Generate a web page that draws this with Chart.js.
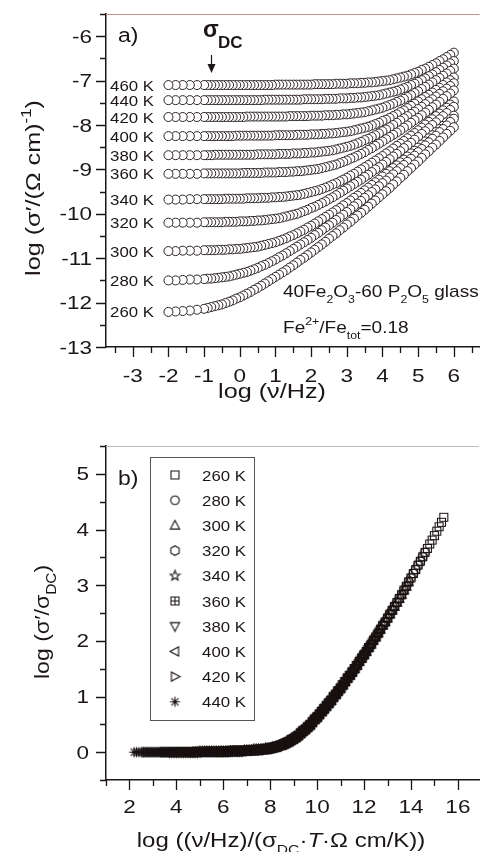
<!DOCTYPE html>
<html>
<head>
<meta charset="utf-8">
<script src="https://cdn.jsdelivr.net/npm/chart.js@4.4.0/dist/chart.umd.min.js"></script>
<style>
  html, body { margin: 0; padding: 0; background: #fff; }
  canvas { display: block; }
</style>
</head>
<body>
<canvas id="chartA" width="485" height="426"></canvas>
<canvas id="chartB" width="485" height="426"></canvas>
<script>
// ---- panel a : log sigma' vs log nu, one list per temperature ----
const tempsA = [260, 280, 300, 320, 340, 360, 380, 400, 420, 440, 460];
const freqA = [-2, -1.8, -1.6, -1.4, -1.2, -1,
  -0.9, -0.8, -0.7, -0.6, -0.5, -0.4, -0.3, -0.2, -0.1,
  0, 0.1, 0.2, 0.3, 0.4, 0.5, 0.6, 0.7, 0.8, 0.9,
  1, 1.1, 1.2, 1.3, 1.4, 1.5, 1.6, 1.7, 1.8, 1.9,
  2, 2.1, 2.2, 2.3, 2.4, 2.5, 2.6, 2.7, 2.8, 2.9,
  3, 3.1, 3.2, 3.3, 3.4, 3.5, 3.6, 3.7, 3.8, 3.9,
  4, 4.1, 4.2, 4.3, 4.4, 4.5, 4.6, 4.7, 4.8, 4.9,
  5, 5.1, 5.2, 5.3, 5.4, 5.5, 5.6, 5.7, 5.8, 5.9,
  6];
const s260 = [-12.21, -12.20, -12.19, -12.18, -12.16, -12.14,
  -12.12, -12.10, -12.08, -12.06, -12.04, -12.01, -11.98, -11.95, -11.91,
  -11.88, -11.84, -11.80, -11.76, -11.71, -11.67, -11.62, -11.57, -11.52, -11.47,
  -11.42, -11.37, -11.32, -11.27, -11.21, -11.16, -11.10, -11.04, -10.99, -10.93,
  -10.87, -10.81, -10.75, -10.69, -10.63, -10.56, -10.50, -10.44, -10.37, -10.31,
  -10.24, -10.18, -10.11, -10.04, -9.98, -9.91, -9.84, -9.77, -9.70, -9.63,
  -9.56, -9.49, -9.42, -9.34, -9.27, -9.19, -9.12, -9.04, -8.97, -8.89,
  -8.82, -8.74, -8.66, -8.59, -8.51, -8.44, -8.36, -8.28, -8.20, -8.13,
  -8.05];
const s280 = [-11.50, -11.50, -11.49, -11.48, -11.48, -11.47,
  -11.46, -11.46, -11.45, -11.44, -11.43, -11.42, -11.41, -11.39, -11.37,
  -11.35, -11.33, -11.31, -11.28, -11.25, -11.22, -11.18, -11.15, -11.11, -11.07,
  -11.03, -10.98, -10.94, -10.89, -10.84, -10.79, -10.74, -10.69, -10.64, -10.59,
  -10.54, -10.48, -10.43, -10.37, -10.31, -10.26, -10.20, -10.14, -10.08, -10.02,
  -9.96, -9.90, -9.83, -9.77, -9.71, -9.64, -9.58, -9.51, -9.45, -9.38,
  -9.31, -9.25, -9.18, -9.11, -9.04, -8.97, -8.90, -8.83, -8.76, -8.69,
  -8.61, -8.54, -8.46, -8.39, -8.31, -8.24, -8.16, -8.09, -8.01, -7.93,
  -7.86];
const s300 = [-10.84, -10.84, -10.83, -10.83, -10.83, -10.82,
  -10.82, -10.82, -10.82, -10.81, -10.81, -10.81, -10.80, -10.80, -10.79,
  -10.79, -10.78, -10.77, -10.76, -10.75, -10.74, -10.72, -10.70, -10.68, -10.66,
  -10.64, -10.61, -10.58, -10.55, -10.51, -10.48, -10.44, -10.40, -10.36, -10.31,
  -10.27, -10.22, -10.17, -10.12, -10.07, -10.02, -9.97, -9.92, -9.87, -9.81,
  -9.76, -9.70, -9.64, -9.59, -9.53, -9.47, -9.41, -9.35, -9.29, -9.23,
  -9.16, -9.10, -9.04, -8.97, -8.91, -8.84, -8.78, -8.71, -8.64, -8.58,
  -8.51, -8.44, -8.37, -8.30, -8.23, -8.16, -8.09, -8.02, -7.94, -7.87,
  -7.79];
const s320 = [-10.20, -10.20, -10.20, -10.20, -10.20, -10.19,
  -10.19, -10.19, -10.19, -10.19, -10.19, -10.18, -10.18, -10.18, -10.18,
  -10.17, -10.17, -10.17, -10.16, -10.16, -10.15, -10.15, -10.14, -10.13, -10.12,
  -10.11, -10.10, -10.08, -10.06, -10.04, -10.02, -10.00, -9.97, -9.94, -9.91,
  -9.87, -9.84, -9.80, -9.76, -9.72, -9.67, -9.63, -9.58, -9.53, -9.48,
  -9.43, -9.38, -9.33, -9.28, -9.23, -9.17, -9.12, -9.06, -9.00, -8.95,
  -8.89, -8.83, -8.77, -8.71, -8.65, -8.59, -8.52, -8.46, -8.40, -8.33,
  -8.27, -8.20, -8.14, -8.07, -8.00, -7.94, -7.87, -7.80, -7.73, -7.66,
  -7.59];
const s340 = [-9.68, -9.68, -9.68, -9.67, -9.67, -9.67,
  -9.67, -9.67, -9.67, -9.67, -9.67, -9.66, -9.66, -9.66, -9.66,
  -9.66, -9.66, -9.65, -9.65, -9.65, -9.65, -9.64, -9.64, -9.64, -9.63,
  -9.63, -9.62, -9.62, -9.61, -9.60, -9.59, -9.58, -9.57, -9.55, -9.53,
  -9.51, -9.49, -9.47, -9.44, -9.41, -9.38, -9.34, -9.31, -9.27, -9.23,
  -9.19, -9.14, -9.10, -9.05, -9.00, -8.95, -8.90, -8.85, -8.80, -8.75,
  -8.70, -8.64, -8.59, -8.53, -8.47, -8.42, -8.36, -8.30, -8.24, -8.18,
  -8.12, -8.06, -7.99, -7.93, -7.87, -7.80, -7.74, -7.67, -7.61, -7.54,
  -7.47];
const s360 = [-9.10, -9.10, -9.10, -9.10, -9.10, -9.09,
  -9.09, -9.09, -9.09, -9.09, -9.09, -9.09, -9.09, -9.09, -9.09,
  -9.09, -9.08, -9.08, -9.08, -9.08, -9.08, -9.08, -9.07, -9.07, -9.07,
  -9.07, -9.06, -9.06, -9.06, -9.05, -9.05, -9.04, -9.04, -9.03, -9.02,
  -9.01, -9.00, -8.99, -8.97, -8.95, -8.93, -8.91, -8.89, -8.86, -8.83,
  -8.80, -8.76, -8.73, -8.69, -8.65, -8.61, -8.56, -8.52, -8.47, -8.42,
  -8.37, -8.32, -8.27, -8.22, -8.17, -8.12, -8.06, -8.01, -7.95, -7.89,
  -7.84, -7.78, -7.72, -7.66, -7.60, -7.54, -7.48, -7.41, -7.35, -7.29,
  -7.22];
const s380 = [-8.68, -8.68, -8.68, -8.68, -8.68, -8.68,
  -8.68, -8.68, -8.67, -8.67, -8.67, -8.67, -8.67, -8.67, -8.67,
  -8.67, -8.67, -8.67, -8.67, -8.67, -8.66, -8.66, -8.66, -8.66, -8.66,
  -8.66, -8.65, -8.65, -8.65, -8.65, -8.64, -8.64, -8.64, -8.63, -8.63,
  -8.62, -8.62, -8.61, -8.60, -8.59, -8.58, -8.57, -8.55, -8.53, -8.51,
  -8.49, -8.47, -8.44, -8.41, -8.38, -8.34, -8.31, -8.27, -8.23, -8.19,
  -8.14, -8.10, -8.05, -8.00, -7.95, -7.90, -7.85, -7.80, -7.75, -7.70,
  -7.64, -7.59, -7.53, -7.47, -7.42, -7.36, -7.30, -7.24, -7.18, -7.12,
  -7.06];
const s400 = [-8.25, -8.25, -8.25, -8.25, -8.25, -8.25,
  -8.25, -8.25, -8.25, -8.25, -8.25, -8.25, -8.25, -8.25, -8.24,
  -8.24, -8.24, -8.24, -8.24, -8.24, -8.24, -8.24, -8.24, -8.24, -8.24,
  -8.23, -8.23, -8.23, -8.23, -8.23, -8.23, -8.22, -8.22, -8.22, -8.22,
  -8.21, -8.21, -8.21, -8.20, -8.20, -8.19, -8.19, -8.18, -8.17, -8.16,
  -8.15, -8.14, -8.12, -8.10, -8.08, -8.06, -8.04, -8.01, -7.98, -7.95,
  -7.91, -7.88, -7.84, -7.80, -7.76, -7.71, -7.67, -7.62, -7.57, -7.52,
  -7.47, -7.42, -7.37, -7.32, -7.27, -7.21, -7.16, -7.10, -7.04, -6.99,
  -6.93];
const s420 = [-7.82, -7.82, -7.82, -7.82, -7.82, -7.82,
  -7.82, -7.82, -7.82, -7.82, -7.82, -7.82, -7.82, -7.82, -7.82,
  -7.82, -7.82, -7.81, -7.81, -7.81, -7.81, -7.81, -7.81, -7.81, -7.81,
  -7.81, -7.81, -7.81, -7.81, -7.80, -7.80, -7.80, -7.80, -7.80, -7.80,
  -7.79, -7.79, -7.79, -7.79, -7.78, -7.78, -7.78, -7.77, -7.77, -7.76,
  -7.76, -7.75, -7.74, -7.73, -7.72, -7.71, -7.69, -7.67, -7.65, -7.63,
  -7.61, -7.58, -7.55, -7.52, -7.48, -7.45, -7.41, -7.37, -7.33, -7.28,
  -7.24, -7.19, -7.14, -7.09, -7.04, -6.99, -6.94, -6.89, -6.84, -6.78,
  -6.73];
const s440 = [-7.44, -7.44, -7.44, -7.44, -7.44, -7.44,
  -7.44, -7.44, -7.44, -7.44, -7.44, -7.44, -7.44, -7.44, -7.44,
  -7.44, -7.44, -7.44, -7.44, -7.44, -7.44, -7.44, -7.43, -7.43, -7.43,
  -7.43, -7.43, -7.43, -7.43, -7.43, -7.43, -7.43, -7.43, -7.42, -7.42,
  -7.42, -7.42, -7.42, -7.42, -7.41, -7.41, -7.41, -7.41, -7.40, -7.40,
  -7.40, -7.39, -7.39, -7.38, -7.38, -7.37, -7.36, -7.35, -7.34, -7.33,
  -7.31, -7.29, -7.27, -7.25, -7.23, -7.20, -7.17, -7.14, -7.10, -7.07,
  -7.03, -6.99, -6.95, -6.90, -6.86, -6.81, -6.76, -6.71, -6.66, -6.61,
  -6.56];
const s460 = [-7.10, -7.10, -7.10, -7.10, -7.10, -7.10,
  -7.10, -7.10, -7.10, -7.10, -7.10, -7.10, -7.10, -7.10, -7.10,
  -7.10, -7.10, -7.10, -7.10, -7.10, -7.10, -7.10, -7.10, -7.10, -7.10,
  -7.09, -7.09, -7.09, -7.09, -7.09, -7.09, -7.09, -7.09, -7.09, -7.09,
  -7.09, -7.08, -7.08, -7.08, -7.08, -7.08, -7.08, -7.07, -7.07, -7.07,
  -7.07, -7.06, -7.06, -7.06, -7.05, -7.05, -7.04, -7.04, -7.03, -7.02,
  -7.01, -7.00, -6.99, -6.97, -6.95, -6.93, -6.91, -6.89, -6.86, -6.83,
  -6.80, -6.76, -6.73, -6.69, -6.65, -6.61, -6.56, -6.52, -6.47, -6.42,
  -6.37];
const sigmaA = [s260, s280, s300, s320, s340, s360, s380, s400, s420, s440, s460];

const xMajorA = [-3, -2, -1, 0, 1, 2, 3, 4, 5, 6];
const xMinorA = [-3.5, -2.5, -1.5, -0.5, 0.5, 1.5, 2.5, 3.5, 4.5, 5.5, 6.5];
const yMajorA = [-13, -12, -11, -10, -9, -8, -7, -6];
const yMinorA = [-12.5, -11.5, -10.5, -9.5, -8.5, -7.5, -6.5, -5.5];

// ---- panel b : master curve, each temperature covers a part of it ----
const tempsB = [260, 280, 300, 320, 340, 360, 380, 400, 420, 440];
const rangeB = [[7.4, 15.4], [6.6, 14.6], [5.9, 13.9], [5.3, 13.3], [4.7, 12.7],
  [4.2, 12.2], [3.7, 11.7], [3.2, 11.2], [2.7, 10.7], [2.2, 10.2]];
const masterX = [2.2, 2.3, 2.4, 2.5, 2.6, 2.7, 2.8, 2.9,
  3, 3.1, 3.2, 3.3, 3.4, 3.5, 3.6, 3.7, 3.8, 3.9,
  4, 4.1, 4.2, 4.3, 4.4, 4.5, 4.6, 4.7, 4.8, 4.9,
  5, 5.1, 5.2, 5.3, 5.4, 5.5, 5.6, 5.7, 5.8, 5.9,
  6, 6.1, 6.2, 6.3, 6.4, 6.5, 6.6, 6.7, 6.8, 6.9,
  7, 7.1, 7.2, 7.3, 7.4, 7.5, 7.6, 7.7, 7.8, 7.9,
  8, 8.1, 8.2, 8.3, 8.4, 8.5, 8.6, 8.7, 8.8, 8.9,
  9, 9.1, 9.2, 9.3, 9.4, 9.5, 9.6, 9.7, 9.8, 9.9,
  10, 10.1, 10.2, 10.3, 10.4, 10.5, 10.6, 10.7, 10.8, 10.9,
  11, 11.1, 11.2, 11.3, 11.4, 11.5, 11.6, 11.7, 11.8, 11.9,
  12, 12.1, 12.2, 12.3, 12.4, 12.5, 12.6, 12.7, 12.8, 12.9,
  13, 13.1, 13.2, 13.3, 13.4, 13.5, 13.6, 13.7, 13.8, 13.9,
  14, 14.1, 14.2, 14.3, 14.4, 14.5, 14.6, 14.7, 14.8, 14.9,
  15, 15.1, 15.2, 15.3, 15.4];
const masterY = [0, 0, 0, 0, 0, 0, 0, 0,
  0, 0, 0, 0, 0, 0, 0, 0, 0, 0,
  0, 0, 0, 0, 0, 0, 0, 0, 0, 0,
  0.01, 0.01, 0.01, 0.01, 0.01, 0.01, 0.01, 0.01, 0.01, 0.01,
  0.01, 0.01, 0.01, 0.02, 0.02, 0.02, 0.02, 0.02, 0.02, 0.03,
  0.03, 0.03, 0.03, 0.04, 0.04, 0.04, 0.05, 0.05, 0.06, 0.06,
  0.07, 0.08, 0.09, 0.10, 0.12, 0.13, 0.15, 0.17, 0.19, 0.22,
  0.24, 0.27, 0.30, 0.34, 0.38, 0.41, 0.45, 0.49, 0.54, 0.59,
  0.63, 0.68, 0.73, 0.78, 0.83, 0.88, 0.93, 0.99, 1.04, 1.10,
  1.15, 1.21, 1.27, 1.33, 1.38, 1.44, 1.50, 1.56, 1.63, 1.69,
  1.75, 1.81, 1.88, 1.94, 2.01, 2.07, 2.14, 2.21, 2.28, 2.34,
  2.41, 2.48, 2.55, 2.62, 2.69, 2.76, 2.83, 2.91, 2.98, 3.06,
  3.13, 3.21, 3.28, 3.36, 3.43, 3.51, 3.59, 3.66, 3.74, 3.81,
  3.89, 3.97, 4.05, 4.13, 4.22];
const markerKinds = ['square', 'circle', 'up', 'hex', 'star', 'boxplus', 'down', 'left', 'right', 'asterisk'];

const xMajorB = [2, 4, 6, 8, 10, 12, 14, 16];
const xMinorB = [1, 3, 5, 7, 9, 11, 13, 15];
const yMajorB = [0, 1, 2, 3, 4, 5];
const yMinorB = [-0.5, 0.5, 1.5, 2.5, 3.5, 4.5, 5.5];

// ---- drawing helpers ----
const FONT = "'Liberation Sans', Arial, Helvetica, sans-serif";
const INK = '#1c1616';

// parts: [text, flags]  d = subscript, u = superscript, i = italic, b = bold
function rich(ctx, parts, x, y, size, align, sx) {
  sx = sx || 1;
  const small = Math.round(size * 0.66);
  const spec = parts.map(([t, f = '']) => {
    const sm = f.includes('d') || f.includes('u');
    const sty = (f.includes('i') ? 'italic ' : '') + (f.includes('b') ? 'bold ' : '');
    const font = sty + (sm ? small : size) + 'px ' + FONT;
    ctx.font = font;
    return { t, font, w: ctx.measureText(t).width,
      dy: f.includes('d') ? size * 0.33 : f.includes('u') ? -size * 0.45 : 0 };
  });
  const total = spec.reduce((s, p) => s + p.w, 0);
  let cx = align === 'center' ? -total / 2 : align === 'right' ? -total : 0;
  ctx.save();
  ctx.translate(x, y);
  ctx.scale(sx, 1);
  ctx.fillStyle = INK;
  ctx.textAlign = 'left';
  ctx.textBaseline = 'alphabetic';
  spec.forEach(p => { ctx.font = p.font; ctx.fillText(p.t, cx, p.dy); cx += p.w; });
  ctx.restore();
}

// open (unfilled) symbols, so that the overlapping scaled curves pile up into a dark band
function makeMarker(kind) {
  const c = document.createElement('canvas');
  c.width = 13; c.height = 13;
  const g = c.getContext('2d');
  g.translate(6.5, 6.5);
  g.lineWidth = 1.1;
  g.strokeStyle = '#1a1212';
  const poly = pts => { g.moveTo(pts[0][0], pts[0][1]); pts.slice(1).forEach(p => g.lineTo(p[0], p[1])); g.closePath(); };
  g.beginPath();
  if (kind === 'square' || kind === 'boxplus') g.rect(-4, -4, 8, 8);
  else if (kind === 'circle') g.arc(0, 0, 4.3, 0, Math.PI * 2);
  else if (kind === 'up') poly([[0, -5], [4.6, 3.6], [-4.6, 3.6]]);
  else if (kind === 'down') poly([[0, 5], [4.6, -3.6], [-4.6, -3.6]]);
  else if (kind === 'left') poly([[-5, 0], [3.6, -4.6], [3.6, 4.6]]);
  else if (kind === 'right') poly([[5, 0], [-3.6, -4.6], [-3.6, 4.6]]);
  else if (kind === 'hex') {
    const pts = [];
    for (let k = 0; k < 6; k++) { const a = Math.PI / 6 + k * Math.PI / 3; pts.push([4.8 * Math.cos(a), 4.8 * Math.sin(a)]); }
    poly(pts);
  } else if (kind === 'star') {
    const pts = [];
    for (let k = 0; k < 10; k++) { const a = -Math.PI / 2 + k * Math.PI / 5; const r = k % 2 ? 2.2 : 5.2; pts.push([r * Math.cos(a), r * Math.sin(a)]); }
    poly(pts);
  }
  if (kind === 'boxplus') { g.moveTo(0, -4); g.lineTo(0, 4); g.moveTo(-4, 0); g.lineTo(4, 0); }
  if (kind === 'asterisk') {
    for (let k = 0; k < 4; k++) { const a = k * Math.PI / 4; g.moveTo(-5 * Math.cos(a), -5 * Math.sin(a)); g.lineTo(5 * Math.cos(a), 5 * Math.sin(a)); }
  }
  g.stroke();
  return c;
}
const markers = markerKinds.map(makeMarker);

// tick marks, tick labels and top frame line, all placed with the chart's scales
const axisDecor = {
  id: 'axisDecor',
  afterDraw(chart, args, o) {
    const ctx = chart.ctx, xs = chart.scales.x, ys = chart.scales.y, area = chart.chartArea;
    ctx.save();
    ctx.strokeStyle = INK;
    ctx.lineWidth = 1.3;
    ctx.beginPath();
    const xt = (v, len) => { const p = Math.round(xs.getPixelForValue(v)) + 0.5; ctx.moveTo(p, area.bottom); ctx.lineTo(p, area.bottom + len); };
    const yt = (v, len) => { const p = Math.round(ys.getPixelForValue(v)) + 0.5; ctx.moveTo(area.left, p); ctx.lineTo(area.left - len, p); };
    o.xMajor.forEach(v => xt(v, 10));
    o.xMinor.forEach(v => xt(v, 6));
    o.yMajor.forEach(v => yt(v, 10));
    o.yMinor.forEach(v => yt(v, 6));
    ctx.stroke();
    ctx.strokeStyle = o.frame;
    ctx.lineWidth = 1;
    ctx.beginPath();
    ctx.moveTo(area.left, area.top + 0.5);
    ctx.lineTo(area.right, area.top + 0.5);
    ctx.stroke();
    ctx.restore();
    o.xMajor.forEach(v => rich(ctx, [[String(v)]], xs.getPixelForValue(v), o.xBase, 18, 'center', 1.25));
    o.yMajor.forEach(v => rich(ctx, [[String(v)]], o.yRight, ys.getPixelForValue(v) + 6.5, 18, 'right', 1.25));
  }
};

function scales(xmin, xmax, ymin, ymax, xh, yw) {
  const common = { type: 'linear', border: { display: true, color: INK, width: 1.5 }, grid: { display: false }, ticks: { display: false } };
  return {
    x: Object.assign({}, common, { min: xmin, max: xmax, afterFit: s => { s.height = xh; } }),
    y: Object.assign({}, common, { min: ymin, max: ymax, afterFit: s => { s.width = yw; } })
  };
}

// ---- chart a ----
const annotA = {
  id: 'annotA',
  afterDraw(chart) {
    const ctx = chart.ctx, ys = chart.scales.y;
    tempsA.forEach((t, i) => rich(ctx, [[t + ' K']], 154, ys.getPixelForValue(sigmaA[i][0]) + 5.5, 15, 'right', 1.12));
    rich(ctx, [['a)']], 118, 42, 20, 'left', 1.15);
    rich(ctx, [['σ', 'b']], 203, 37, 23, 'left', 1);
    rich(ctx, [['DC', 'b']], 218, 48, 17, 'left', 1);
    ctx.save();
    ctx.strokeStyle = INK; ctx.fillStyle = INK; ctx.lineWidth = 1.2;
    ctx.beginPath(); ctx.moveTo(211.5, 55); ctx.lineTo(211.5, 66); ctx.stroke();
    ctx.beginPath(); ctx.moveTo(207.5, 64); ctx.lineTo(215.5, 64); ctx.lineTo(211.5, 73); ctx.closePath(); ctx.fill();
    ctx.restore();
    rich(ctx, [['40Fe'], ['2', 'd'], ['O'], ['3', 'd'], ['-60 P'], ['2', 'd'], ['O'], ['5', 'd'], [' glass']], 283, 297, 17, 'left', 1.12);
    rich(ctx, [['Fe'], ['2+', 'u'], ['/Fe'], ['tot', 'd'], ['=0.18']], 283, 333, 17, 'left', 1.12);
    rich(ctx, [['log (ν/Hz)']], 272, 398, 21, 'center', 1.2);
    ctx.save();
    ctx.translate(40, 188);
    ctx.rotate(-Math.PI / 2);
    rich(ctx, [['log (σ′/(Ω cm)'], ['-1', 'u'], [')']], 0, 0, 21, 'center', 1.2);
    ctx.restore();
  }
};

new Chart(document.getElementById('chartA'), {
  type: 'scatter',
  data: {
    datasets: tempsA.map((t, i) => ({
      label: t + ' K',
      data: freqA.map((f, j) => ({ x: f, y: sigmaA[i][j] })).reverse(),
      pointStyle: 'circle',
      pointRadius: 4.5,
      pointBorderWidth: 1,
      pointBorderColor: '#2e2424',
      pointBackgroundColor: '#fff'
    }))
  },
  options: {
    responsive: false, animation: false, devicePixelRatio: 1, events: [],
    layout: { padding: { top: 14, left: 0, right: 0, bottom: 0 } },
    plugins: {
      legend: { display: false }, tooltip: { enabled: false },
      axisDecor: { xMajor: xMajorA, xMinor: xMinorA, yMajor: yMajorA, yMinor: yMinorA, frame: '#c49090', xBase: 382, yRight: 92 }
    },
    scales: scales(-3.75, 6.72, -13, -5.5, 79, 106)
  },
  plugins: [axisDecor, annotA]
});

// ---- chart b ----
const annotB = {
  id: 'annotB',
  afterDraw(chart) {
    const ctx = chart.ctx;
    rich(ctx, [['b)']], 118, 59, 20, 'left', 1.15);
    ctx.save();
    ctx.strokeStyle = '#555'; ctx.lineWidth = 1;
    ctx.strokeRect(150.5, 31.5, 104, 263);
    tempsB.forEach((t, i) => {
      const y = 49 + i * 25.2;
      ctx.drawImage(markers[i], 175 - 6.5, y - 6.5);
    });
    ctx.restore();
    tempsB.forEach((t, i) => rich(ctx, [[t + ' K']], 246, 49 + i * 25.2 + 5.5, 15, 'right', 1.12));
    rich(ctx, [['log ((ν/Hz)/(σ'], ['DC', 'd'], ['·'], ['T', 'i'], ['·Ω cm/K))']], 281, 421, 20, 'center', 1.2);
    ctx.save();
    ctx.translate(49, 196);
    ctx.rotate(-Math.PI / 2);
    rich(ctx, [['log (σ′/σ'], ['DC', 'd'], [')']], 0, 0, 21, 'center', 1.1);
    ctx.restore();
  }
};

new Chart(document.getElementById('chartB'), {
  type: 'scatter',
  data: {
    datasets: tempsB.map((t, i) => {
      const pts = [];
      masterX.forEach((x, j) => {
        if (x >= rangeB[i][0] - 1e-6 && x <= rangeB[i][1] + 1e-6) pts.push({ x: x, y: masterY[j] });
      });
      return { label: t + ' K', data: pts.reverse(), pointStyle: markers[i], pointRadius: 5 };
    })
  },
  options: {
    responsive: false, animation: false, devicePixelRatio: 1, events: [],
    layout: { padding: { top: 20, left: 0, right: 0, bottom: 0 } },
    plugins: {
      legend: { display: false }, tooltip: { enabled: false },
      axisDecor: { xMajor: xMajorB, xMinor: xMinorB, yMajor: yMajorB, yMinor: yMinorB, frame: '#bdbdbd', xBase: 387, yRight: 89 }
    },
    scales: scales(1, 16.9, -0.5, 5.5, 72, 106)
  },
  plugins: [axisDecor, annotB]
});
</script>
</body>
</html>
